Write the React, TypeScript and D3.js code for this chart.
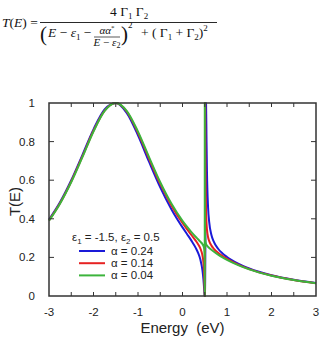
import React, { useEffect, useRef } from 'react';
import * as d3 from 'd3';

// energy grid (eV), dense around the resonance at E = eps2 = 0.5
const energy = [
  -3, -2.75, -2.5, -2.25, -2, -1.75, -1.5, -1.25, -1, -0.75, -0.5, -0.25, 0,
  0.1, 0.2, 0.3, 0.35, 0.4, 0.45, 0.47, 0.48, 0.49, 0.495, 0.498, 0.499, 0.5,
  0.5008, 0.501, 0.502, 0.505, 0.5075, 0.5098, 0.51, 0.515, 0.52, 0.525, 0.5284,
  0.53, 0.54, 0.55, 0.575, 0.6, 0.65, 0.7, 0.8, 0.9, 1, 1.25, 1.5, 2, 2.5, 3,
];

const tAlpha024 = [
  0.3955, 0.4867, 0.5995, 0.7304, 0.8636, 0.9662, 0.9994, 0.9473, 0.8324, 0.6944, 0.5628, 0.4499, 0.3557,
  0.3213, 0.2869, 0.2483, 0.2239, 0.1902, 0.1302, 0.0869, 0.0575, 0.0234, 0.0078, 0.0015, 0.0004, 0,
  0.0003, 0.0005, 0.002, 0.0157, 0.0428, 0.0878, 0.0929, 0.3018, 0.6607, 0.9487, 1.0,
  0.9917, 0.8, 0.641, 0.4574, 0.3827, 0.3159, 0.2826, 0.2447, 0.2205, 0.202, 0.1677, 0.1426, 0.1073, 0.0837, 0.067,
];

const tAlpha014 = [
  0.392, 0.482, 0.5933, 0.7229, 0.856, 0.9611, 0.9999, 0.9548, 0.8454, 0.7107, 0.5807, 0.4693, 0.378,
  0.3462, 0.316, 0.2856, 0.2685, 0.2469, 0.2079, 0.173, 0.1412, 0.0845, 0.0395, 0.0102, 0.0031, 0,
  0.0028, 0.0046, 0.0231, 0.282, 0.797, 1.0, 0.9983, 0.7416, 0.5711, 0.4832, 0.4457,
  0.4318, 0.3748, 0.3438, 0.3045, 0.2843, 0.261, 0.2458, 0.2238, 0.2067, 0.1921, 0.1625, 0.1395, 0.1059, 0.0829, 0.0666,
];

const tAlpha004 = [
  0.3904, 0.4798, 0.5904, 0.7194, 0.8524, 0.9586, 1.0, 0.9581, 0.8515, 0.7184, 0.5894, 0.4787, 0.3892,
  0.3589, 0.3312, 0.3058, 0.2938, 0.2817, 0.2682, 0.2602, 0.2534, 0.2375, 0.2118, 0.1554, 0.1, 0,
  1.0, 0.8996, 0.4992, 0.3365, 0.3091, 0.2969, 0.2961, 0.2834, 0.2767, 0.2724, 0.2702,
  0.2693, 0.2647, 0.2612, 0.2545, 0.249, 0.2393, 0.2306, 0.2148, 0.2005, 0.1876, 0.1602, 0.1381, 0.1052, 0.0826, 0.0664,
];

const seriesLabels = ['\u03b1 = 0.24', '\u03b1 = 0.14', '\u03b1 = 0.04'];
const seriesColors = ['#1a1ad8', '#e62222', '#3cb43c'];
const xTicks = [-3, -2, -1, 0, 1, 2, 3];
const yTicks = [0, 0.2, 0.4, 0.6, 0.8, 1];

// run = [text, baseline shift (px, + is down), font size, italic]
type Run = [string, number, number?, boolean?];

const addRuns = (t: any, runs: Run[], base: number) => {
  let cur = 0;
  runs.forEach(([s, shift, size, it]) => {
    t.append('tspan')
      .attr('dy', shift - cur)
      .style('font-size', `${size ?? base}px`)
      .style('font-style', it ? 'italic' : 'normal')
      .text(s);
    cur = shift;
  });
};

const App = () => {
  const svgRef = useRef<SVGSVGElement>(null);

  useEffect(() => {
    const margin = { top: 103, right: 4, bottom: 42, left: 49 };
    const W = 320, H = 338;
    const width = W - margin.left - margin.right;
    const height = H - margin.top - margin.bottom;

    d3.select(svgRef.current).selectAll('*').remove();
    const root = d3.select(svgRef.current).attr('width', W).attr('height', H);

    const svg = root.append('g').attr('transform', `translate(${margin.left},${margin.top})`);

    const x = d3.scaleLinear().domain([-3, 3]).range([0, width]);
    const y = d3.scaleLinear().domain([0, 1]).range([height, 0]);

    root.append('defs').append('clipPath').attr('id', 'plotclip')
      .append('rect').attr('x', -2).attr('y', -1).attr('width', width + 4).attr('height', height + 2);

    // curves
    const allSeries = [tAlpha024, tAlpha014, tAlpha004];
    const line = d3.line<number>()
      .x((_, i) => x(energy[i]))
      .y(d => y(d))
      .curve(d3.curveMonotoneX);
    const curves = svg.append('g').attr('clip-path', 'url(#plotclip)');
    allSeries.forEach((s, k) => {
      curves.append('path')
        .attr('d', line(s))
        .attr('fill', 'none')
        .attr('stroke', seriesColors[k])
        .attr('stroke-width', 2)
        .attr('stroke-linejoin', 'round');
    });

    // frame and inward ticks
    const axisColor = '#333';
    svg.append('rect')
      .attr('width', width).attr('height', height)
      .attr('fill', 'none').attr('stroke', axisColor).attr('stroke-width', 1.5);

    const minorX = d3.range(-2.5, 3, 0.5);
    minorX.forEach(v => {
      svg.append('line').attr('x1', x(v)).attr('x2', x(v)).attr('y1', height).attr('y2', height - 4)
        .attr('stroke', axisColor);
      svg.append('line').attr('x1', x(v)).attr('x2', x(v)).attr('y1', 0).attr('y2', 4)
        .attr('stroke', axisColor);
    });
    yTicks.slice(1, -1).forEach(v => {
      svg.append('line').attr('x1', 0).attr('x2', 5).attr('y1', y(v)).attr('y2', y(v)).attr('stroke', axisColor);
      svg.append('line').attr('x1', width).attr('x2', width - 5).attr('y1', y(v)).attr('y2', y(v)).attr('stroke', axisColor);
    });

    const font = 'Liberation Sans, Arial, sans-serif';
    svg.selectAll('.xl').data(xTicks).enter().append('text')
      .attr('x', d => x(d)).attr('y', height + 20)
      .attr('text-anchor', 'middle')
      .style('font-family', font).style('font-size', '11.5px').style('fill', '#222')
      .text(d => String(d));
    svg.selectAll('.yl').data(yTicks).enter().append('text')
      .attr('x', -14).attr('y', d => y(d) + 4)
      .attr('text-anchor', 'end')
      .style('font-family', font).style('font-size', '11.5px').style('fill', '#222')
      .text(d => String(d));

    // axis titles
    svg.append('text')
      .attr('x', width / 2).attr('y', height + 37)
      .attr('text-anchor', 'middle')
      .style('font-family', font).style('font-size', '15px').style('fill', '#222')
      .style('white-space', 'pre')
      .text('Energy  (eV)');
    svg.append('text')
      .attr('transform', `translate(${-29},${height / 2 + 2}) rotate(-90)`)
      .attr('text-anchor', 'middle')
      .style('font-family', font).style('font-size', '15px').style('fill', '#222')
      .text('T(E)');

    // legend
    const leg = svg.append('g').attr('transform', 'translate(23,138)')
      .style('font-family', font).style('fill', '#222');
    addRuns(leg.append('text').attr('x', 0).attr('y', 0), [
      ['\u03b5', 0], ['1', 3, 8], [' = -1.5, \u03b5', 0], ['2', 3, 8], [' = 0.5', 0],
    ], 11.5);
    seriesLabels.forEach((lab, k) => {
      const yy = 10 + k * 12.2;
      leg.append('line').attr('x1', 7).attr('x2', 33).attr('y1', yy).attr('y2', yy)
        .attr('stroke', seriesColors[k]).attr('stroke-width', 2);
      leg.append('text').attr('x', 39).attr('y', yy + 4).style('font-size', '11.5px').text(lab);
    });

    // formula
    const serif = 'Liberation Serif, Times New Roman, serif';
    const f = root.append('g').style('font-family', serif).style('fill', '#111');

    addRuns(f.append('text').attr('x', 2).attr('y', 27), [
      ['T', 0, 13.5, true], ['(', 0], ['E', 0, 13.5, true], [') =', 0],
    ], 13.5);

    f.append('line').attr('x1', 40).attr('x2', 217).attr('y1', 22.5).attr('y2', 22.5)
      .attr('stroke', '#111').attr('stroke-width', 0.9);

    addRuns(f.append('text').attr('x', 110).attr('y', 16), [
      ['4 \u0393', 0], ['1', 2.5, 9], [' \u0393', 0], ['2', 2.5, 9],
    ], 13.5);

    f.append('text').attr('x', 40).attr('y', 41).style('font-size', '21px').text('(');
    addRuns(f.append('text').attr('x', 48).attr('y', 37), [
      ['E', 0, 13.5, true], [' \u2212 ', 0], ['\u03b5', 0, 13.5, true], ['1', 2.5, 9], [' \u2212', 0],
    ], 13.5);

    addRuns(f.append('text').attr('x', 107).attr('y', 34).attr('text-anchor', 'middle'), [
      ['\u03b1\u03b1', 0, 11, true], ['*', -4, 7],
    ], 11);
    f.append('line').attr('x1', 94).attr('x2', 120).attr('y1', 37).attr('y2', 37)
      .attr('stroke', '#111').attr('stroke-width', 0.7);
    addRuns(f.append('text').attr('x', 107).attr('y', 46).attr('text-anchor', 'middle'), [
      ['E', 0, 11, true], [' \u2212 ', 0], ['\u03b5', 0, 11, true], ['2', 2, 8],
    ], 11);

    f.append('text').attr('x', 121).attr('y', 41).style('font-size', '21px').text(')');
    f.append('text').attr('x', 128).attr('y', 28).style('font-size', '9px').text('2');

    addRuns(f.append('text').attr('x', 141).attr('y', 37), [
      ['+ ( \u0393', 0], ['1', 2.5, 9], [' + \u0393', 0], ['2', 2.5, 9], [')', 0], ['2', -6, 9],
    ], 13.5);
  }, []);

  return (
    <div style={{ position: 'absolute', left: 0, top: 0 }}>
      <svg ref={svgRef} style={{ display: 'block' }}></svg>
    </div>
  );
};

export default App;
